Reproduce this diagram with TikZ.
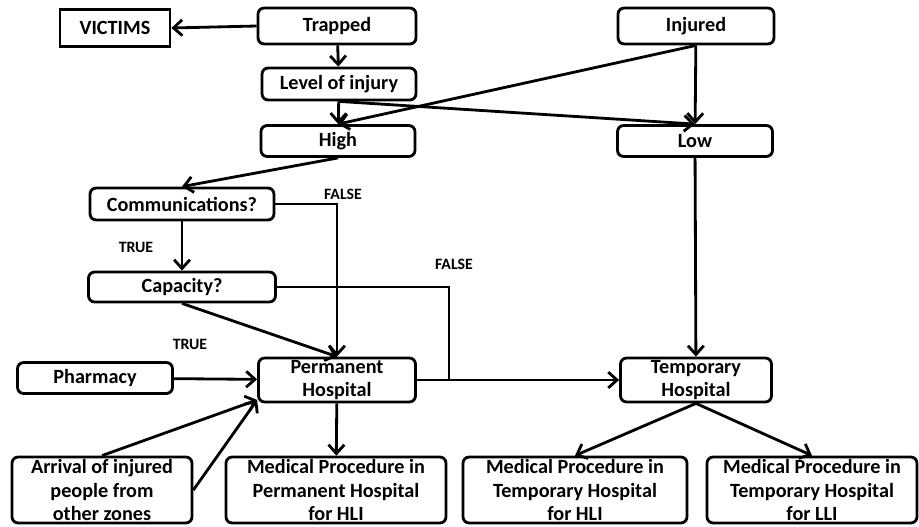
\documentclass[tikz,border=0pt]{standalone}
\usepackage{fontspec}
\setmainfont{Carlito}
\usetikzlibrary{arrows.meta}

\begin{document}
\begin{tikzpicture}[x=0.02cm, y=-0.02cm,
    stage/.style ={draw, line width=1.6pt, rounded corners=3.5pt, align=center, inner sep=1pt,
                   font=\fontsize{11.5}{13.6}\selectfont\bfseries},
    victim/.style ={draw, line width=1.6pt, inner sep=1pt, font=\fontsize{11.5}{13.6}\selectfont\bfseries},
    flag/.style ={font=\fontsize{9}{10}\selectfont\bfseries},
    link/.style ={line width=1.6pt, -{Straight Barb[length=5pt,width=9pt]}}]
   \useasboundingbox (0,0) rectangle (919,527);
   \node[victim, minimum width=2.2cm, minimum height=0.74cm] (VIC) at (115,28) {VICTIMS};
   \node[stage, minimum width=3.16cm, minimum height=0.72cm] (TRP) at (337,26) {Trapped};
   \node[stage, minimum width=3.12cm, minimum height=0.72cm] (INJ) at (696,26) {Injured};
   \node[stage, minimum width=3.08cm, minimum height=0.64cm] (LOI) at (339,84) {Level of injury};
   \node[stage, minimum width=3.08cm, minimum height=0.62cm] (HI) at (338,141) {High};
   \node[stage, minimum width=3.1cm, minimum height=0.62cm] (LO) at (695,141) {Low};
   \node[stage, minimum width=3.68cm, minimum height=0.64cm] (COM) at (182,204) {Communications?};
   \node[stage, minimum width=3.74cm, minimum height=0.6cm] (CAP) at (182,287) {Capacity?};
   \node[stage, minimum width=3.1cm, minimum height=0.62cm] (PHA) at (95,378) {Pharmacy};
   \node[stage, minimum width=3.14cm, minimum height=0.88cm] (PH) at (337,380) {Permanent\\Hospital};
   \node[stage, minimum width=3.02cm, minimum height=0.88cm] (TH) at (696,380) {Temporary\\Hospital};
   \node[stage, minimum width=3.6cm, minimum height=1.32cm] (ARR) at (102,490)
        {Arrival of injured\\people from\\other zones};
   \node[stage, minimum width=4.4cm, minimum height=1.32cm] (MPH) at (336,490)
        {Medical Procedure in\\Permanent Hospital\\for HLI};
   \node[stage, minimum width=4.48cm, minimum height=1.32cm] (MTH) at (575,490)
        {Medical Procedure in\\Temporary Hospital\\for HLI};
   \node[stage, minimum width=4.2cm, minimum height=1.32cm] (MTL) at (812,490)
        {Medical Procedure in\\Temporary Hospital\\for LLI};
   \node[flag] (F1) at (343,194) {FALSE};
   \node[flag] (F2) at (454,264) {FALSE};
   \node[flag] (T1) at (136,247) {TRUE};
   \node[flag] (T2) at (190,344) {TRUE};
   \coordinate (J) at (449,380);
   \draw[link] (TRP.west) to (VIC.east);
   \draw[link] (TRP) to (LOI);
   \draw[link] (LOI) to (HI);
   \draw[link] (LOI.south) to (LO.north);
   \draw[link] (INJ.south) to (HI.north);
   \draw[link] (INJ) to (LO);
   \draw[link] (HI.south) to (COM.north);
   \draw[link] (COM) to (CAP);
   \draw[link] (COM.east) -| (PH.north);
   \draw[line width=1.6pt] (CAP.east) -| (J);
   \draw[link] (CAP.south) to (PH.north);
   \draw[link] (PHA) to (PH);
   \draw[link] (ARR.north) to (PH.194);
   \draw[link] (ARR.east) to (PH.194);
   \draw[link] (PH) to (MPH);
   \draw[link] (PH.east) to (TH.west);
   \draw[link] (LO) to (TH);
   \draw[link] (TH.south) to (MTH.north);
   \draw[link] (TH.south) to (MTL.north);
 \end{tikzpicture}
\end{document}
